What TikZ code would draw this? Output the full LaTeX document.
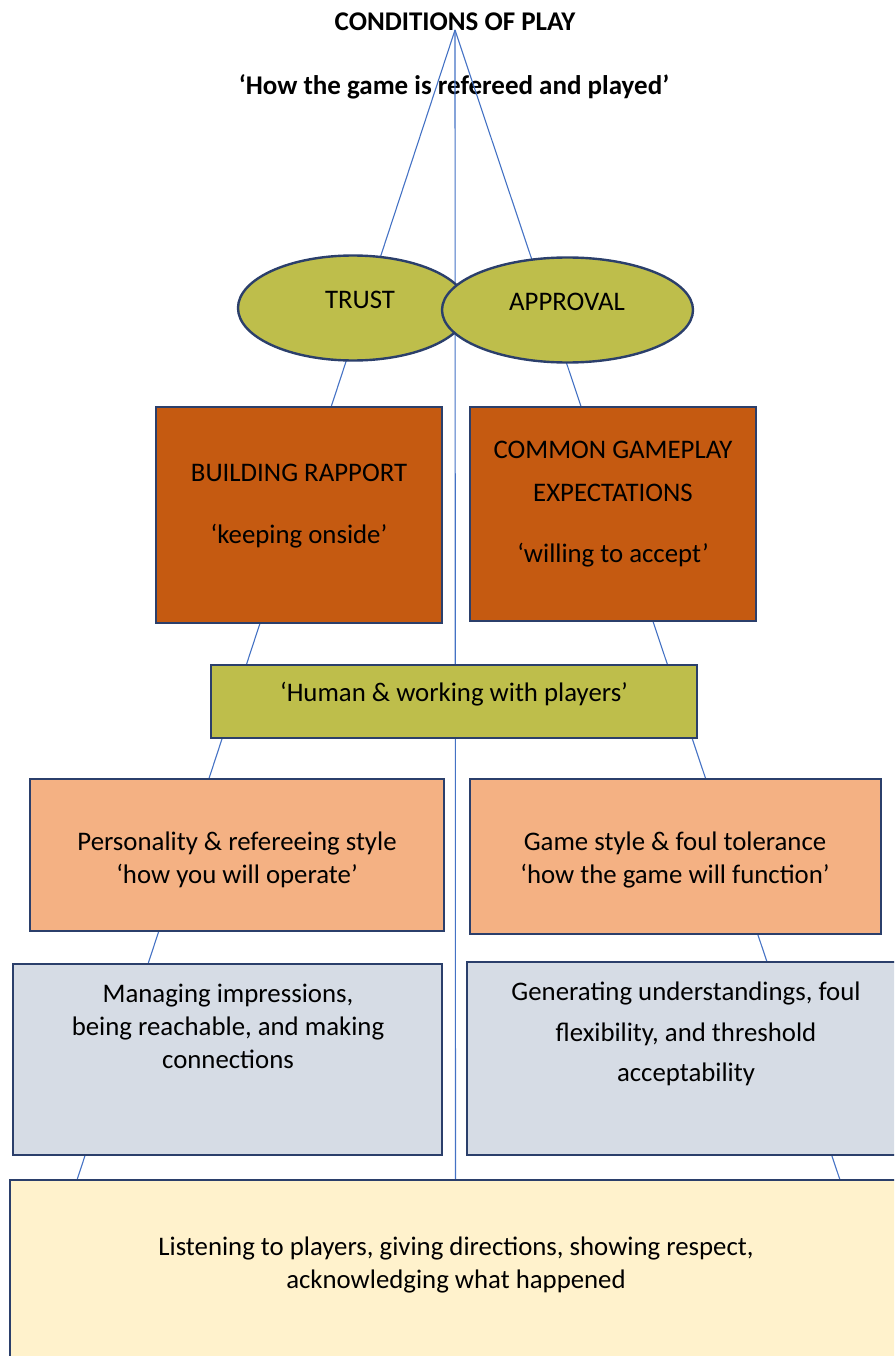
\documentclass[tikz,border=0pt]{standalone}
\usepackage{fontspec}
\setmainfont{Carlito}
\usetikzlibrary{shapes.geometric}

\definecolor{edgeNavy}{HTML}{2B3F6B}
\definecolor{linkBlue}{HTML}{4472C4}
\definecolor{oliveFill}{HTML}{BEBE4B}
\definecolor{rustFill}{HTML}{C55A11}
\definecolor{peachFill}{HTML}{F4B183}
\definecolor{slateFill}{HTML}{D6DCE5}
\definecolor{creamFill}{HTML}{FFF2CC}

\tikzset{
  link/.style={draw=linkBlue, line width=1.1pt},
  shapebox/.style={draw=edgeNavy, line width=2.4pt, rectangle, inner sep=0pt},
  oval/.style={draw=edgeNavy, line width=2.4pt, ellipse, inner sep=0pt,
               fill=oliveFill},
  txt/.style={font=\fontsize{26.8}{33}\selectfont, align=center, inner sep=0pt},
  headtxt/.style={font=\fontsize{27}{33}\selectfont\bfseries, inner sep=0pt},
}

\begin{document}
\begin{tikzpicture}[x=1pt, y=-1pt]
  \useasboundingbox (0,0) rectangle (894,1356);
  \clip (0,0) rectangle (894,1356);

  % heading
  \node[headtxt, anchor=base] (title) at (455,31) {CONDITIONS OF PLAY};
  \node[headtxt, anchor=base] (subtitle) at (454,95) {‘How the game is refereed and played’};

  % the three rays from the apex down to the base box
  \coordinate (apex) at (455,30);
  \coordinate (footL) at (77,1180);
  \coordinate (footC) at (455.5,1180);
  \coordinate (footR) at (840,1180);
  \draw[link] (apex) -- (footL);
  \draw[link] (apex) -- (footC);
  \draw[link] (apex) -- (footR);

  % ellipses
  \node[oval, minimum width=230pt, minimum height=105pt] (trust) at (353,308) {};
  \node[txt] (trustT) at (360,300) {TRUST};
  \node[oval, minimum width=251pt, minimum height=105pt] (approval) at (567.5,310) {};
  \node[txt] (approvalT) at (567,302) {APPROVAL};

  % second row
  \node[shapebox, fill=rustFill, minimum width=286pt, minimum height=216pt] (rapport) at (299,515) {};
  \node[txt] (rapportT) at (299,506) {BUILDING RAPPORT\\[29pt]‘keeping onside’};
  \node[shapebox, fill=rustFill, minimum width=286pt, minimum height=214pt] (common) at (613,514) {};
  \node[txt] (commonT) at (613,504) {COMMON GAMEPLAY\\[9.5pt]EXPECTATIONS\\[28pt]‘willing to accept’};

  % middle bar
  \node[shapebox, fill=oliveFill, minimum width=486pt, minimum height=73pt] (human) at (454,701.5) {};
  \node[txt] (humanT) at (454,694) {‘Human \& working with players’};

  % third row
  \node[shapebox, fill=peachFill, minimum width=414pt, minimum height=152pt] (person) at (237,855) {};
  \node[txt] (personT) at (237,860) {Personality \& refereeing style\\‘how you will operate’};
  \node[shapebox, fill=peachFill, minimum width=411pt, minimum height=155pt] (gamestyle) at (675.5,856.5) {};
  \node[txt] (gamestyleT) at (675,860) {Game style \& foul tolerance\\‘how the game will function’};

  % fourth row
  \node[shapebox, fill=slateFill, minimum width=429pt, minimum height=191pt] (manage) at (227.5,1059.5) {};
  \node[txt] (manageT) at (228,1026) {Managing impressions,\\being reachable, and making\\connections};
  \node[shapebox, fill=slateFill, minimum width=438pt, minimum height=193pt] (generate) at (686,1058.5) {};
  \node[txt] (generateT) at (686,1034) {Generating understandings, foul\\[7.5pt]flexibility, and threshold\\[7.5pt]acceptability};

  % base
  \node[shapebox, fill=creamFill, minimum width=892pt, minimum height=220pt] (listen) at (456,1290) {};
  \node[txt] (listenT) at (456,1265) {Listening to players, giving directions, showing respect,\\acknowledging what happened};
\end{tikzpicture}
\end{document}
